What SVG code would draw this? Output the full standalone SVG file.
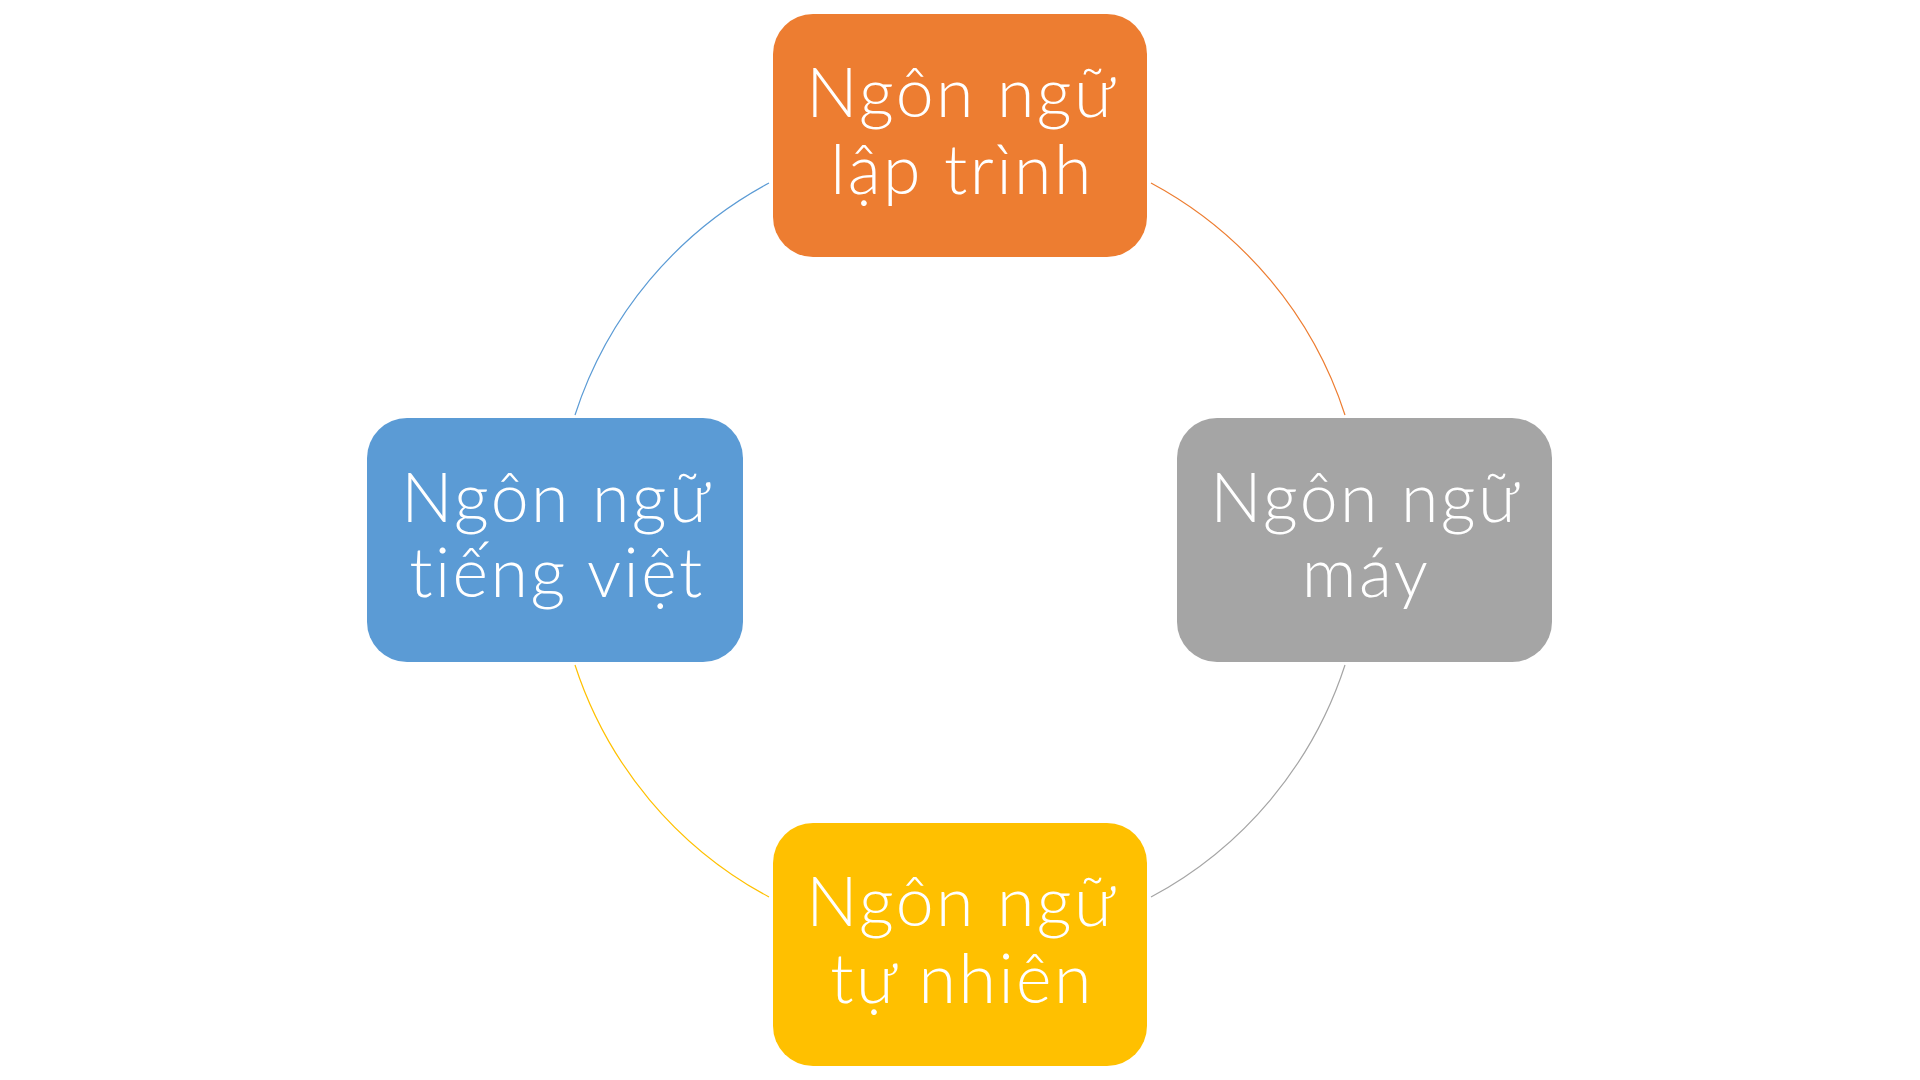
<svg xmlns="http://www.w3.org/2000/svg" width="1920" height="1080" viewBox="0 0 1920 1080">
<style>
.box{stroke:none}
.lbl{font-family:"Lato","Noto Sans","Liberation Sans",sans-serif;font-size:68px;font-weight:300;fill:#ffffff;text-anchor:middle;letter-spacing:2.5px}
.arc{fill:none;stroke-width:1.2}
</style>
<rect width="1920" height="1080" fill="#ffffff"/>
<g id="connectors">
<path class="arc" stroke="#5B9BD5" d="M575,415 A405,405 0 0 1 769,183"/>
<path class="arc" stroke="#ED7D31" d="M1151,183 A405,405 0 0 1 1345,415"/>
<path class="arc" stroke="#A5A5A5" d="M1345,665 A405,405 0 0 1 1151,897"/>
<path class="arc" stroke="#FFC000" d="M769,897 A405,405 0 0 1 575,665"/>
</g>
<g id="node-laptrinh">
<rect class="box" x="773" y="14" width="374" height="243" rx="40" fill="#ED7D31"/>
<text class="lbl" x="962" y="117">Ngôn ngữ</text>
<text class="lbl" x="962" y="194">lập trình</text>
</g>
<g id="node-may">
<rect class="box" x="1177" y="418" width="375" height="244" rx="40" fill="#A5A5A5"/>
<text class="lbl" x="1366" y="522">Ngôn ngữ</text>
<text class="lbl" x="1366" y="597">máy</text>
</g>
<g id="node-tunhien">
<rect class="box" x="773" y="823" width="374" height="243" rx="40" fill="#FFC000"/>
<text class="lbl" x="962" y="926">Ngôn ngữ</text>
<text class="lbl" x="962" y="1003">tự nhiên</text>
</g>
<g id="node-tiengviet">
<rect class="box" x="367" y="418" width="376" height="244" rx="40" fill="#5B9BD5"/>
<text class="lbl" x="557" y="522">Ngôn ngữ</text>
<text class="lbl" x="557" y="597">tiếng việt</text>
</g>
</svg>
